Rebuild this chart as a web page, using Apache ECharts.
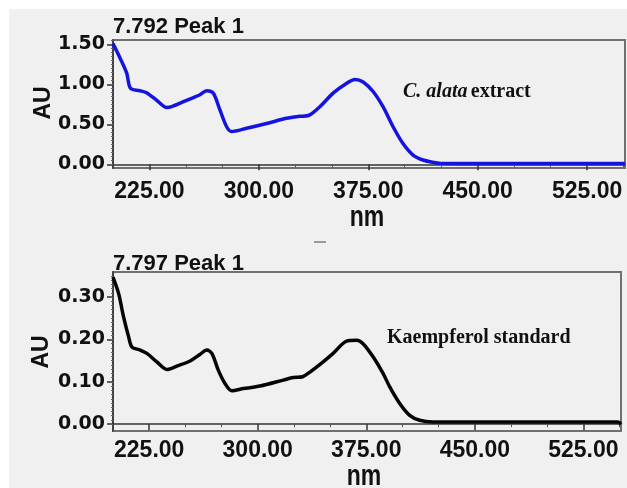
<!DOCTYPE html>
<html>
<head>
<meta charset="utf-8">
<script src="https://cdn.jsdelivr.net/npm/echarts@6/dist/echarts.min.js"></script>
<style>
  html, body { margin: 0; padding: 0; background: #ffffff; }
  #chart { width: 627px; height: 488px; }
</style>
</head>
<body>
<div id="chart"></div>
<script>
// UV spectra of the 7.79 min peak: plant extract (top) and kaempferol standard (bottom)
const extractTitle = '7.792 Peak 1';
const standardTitle = '7.797 Peak 1';

const extractNm = [200, 204.8, 209.4, 212, 218.5, 223, 230, 236.8, 240.2, 250.5, 259.6, 264.2, 268.7, 273.3,
  277.9, 281.3, 291.6, 305.3, 318.8, 328, 334, 341.8, 350.9, 360, 365.8, 371.5, 378.3, 385.1, 392, 398.8,
  405.7, 412.5, 419.4, 424, 450, 500, 551];
const extractAU = [1.51, 1.33, 1.14, 0.95, 0.92, 0.895, 0.80, 0.71, 0.72, 0.80, 0.87, 0.92, 0.89, 0.68,
  0.47, 0.41, 0.45, 0.51, 0.575, 0.60, 0.61, 0.72, 0.89, 1.01, 1.06, 1.03, 0.91, 0.72, 0.47, 0.26,
  0.116, 0.054, 0.025, 0.012, 0.01, 0.01, 0.01];

const standardNm = [200, 203.9, 207.3, 210.8, 213.1, 218.8, 223.4, 230.3, 237.2, 244.1, 253.3, 260.2, 264.8,
  268.3, 272.8, 277.4, 282.1, 290.1, 301.6, 317.7, 324.6, 331, 336.1, 345.2, 352.1, 361.4, 368.3, 372.8,
  379.7, 386.6, 391.2, 398.1, 405, 411.9, 421.1, 500, 549, 551];
const standardAU = [0.347, 0.308, 0.253, 0.206, 0.182, 0.175, 0.167, 0.147, 0.129, 0.137, 0.149, 0.165, 0.175,
  0.167, 0.127, 0.096, 0.079, 0.084, 0.090, 0.104, 0.110, 0.112, 0.123, 0.147, 0.167, 0.196, 0.198, 0.190,
  0.159, 0.12, 0.088, 0.049, 0.021, 0.0094, 0.0054, 0.005, 0.005, 0.0];

const nmTicks = [225, 300, 375, 450, 525];
const nmMinorTicks = [250, 275, 325, 350, 400, 425, 475, 500, 550];
const extractTicks = [0, 0.5, 1.0, 1.5];
const standardTicks = [0, 0.1, 0.2, 0.3];

const pairs = (xs, ys) => xs.map((x, i) => [x, ys[i]]);
const range = (a, b, step) => {
  const out = [];
  for (let v = a; v <= b + 1e-9; v += step) out.push(+v.toFixed(4));
  return out;
};

const xLabelFont = { fontFamily: 'Liberation Sans', fontWeight: 'bold', fontSize: 23, color: '#111' };
const yLabelFont = { fontFamily: 'DejaVu Sans', fontWeight: 'bold', fontSize: 19, color: '#111' };

function xAxes(gridIndex, labelMargin) {
  return [
    {
      type: 'value', gridIndex, min: 200, max: 551,
      axisLine: { show: true, lineStyle: { color: '#333', width: 1.5 } },
      axisTick: { show: true, customValues: nmTicks, length: 6, lineStyle: { color: '#333', width: 1.5 } },
      axisLabel: Object.assign({ customValues: nmTicks, margin: labelMargin, formatter: v => v.toFixed(2) }, xLabelFont),
      splitLine: { show: false }
    },
    {
      type: 'value', gridIndex, min: 200, max: 551, position: 'bottom',
      axisLine: { show: false },
      axisTick: { show: true, customValues: nmMinorTicks, length: 3, lineStyle: { color: '#555', width: 1 } },
      axisLabel: { show: false },
      splitLine: { show: false }
    }
  ];
}

function yAxes(gridIndex, min, max, ticks, minorStep) {
  return [
    {
      type: 'value', gridIndex, min, max,
      axisLine: { show: true, lineStyle: { color: '#333', width: 1.5 } },
      axisTick: { show: true, customValues: ticks, length: 6, lineStyle: { color: '#333', width: 1.5 } },
      axisLabel: Object.assign({ customValues: ticks, margin: 8, formatter: v => v.toFixed(2) }, yLabelFont),
      splitLine: { show: false }
    },
    {
      type: 'value', gridIndex, min, max, position: 'left',
      axisLine: { show: false },
      axisTick: { show: true, customValues: range(0, max, minorStep), length: 2, lineStyle: { color: '#666', width: 1 } },
      axisLabel: { show: false },
      splitLine: { show: false }
    }
  ];
}

const chart = echarts.init(document.getElementById('chart'), null, { renderer: 'canvas' });

const titleFont = { fontFamily: 'Liberation Sans', fontWeight: 'bold', fontSize: 22, fill: '#111' };
const nameFont = { fontFamily: 'Liberation Sans', fontWeight: 'bold', fontSize: 23, fill: '#111' };

chart.setOption({
  animation: false,
  backgroundColor: '#ffffff',
  grid: [
    { left: 113, top: 40, width: 512, height: 128, show: true, backgroundColor: '#f0f0f0', borderColor: '#707070', borderWidth: 2 },
    { left: 113, top: 272, width: 508, height: 159, show: true, backgroundColor: '#f0f0f0', borderColor: '#707070', borderWidth: 2 }
  ],
  xAxis: [...xAxes(0, 12), ...xAxes(1, 8)],
  yAxis: [...yAxes(0, -0.046, 1.554, extractTicks, 0.05), ...yAxes(1, -0.016, 0.359, standardTicks, 0.01)],
  graphic: [
    { type: 'rect', z: -10, silent: true, shape: { x: 9, y: 9, width: 618, height: 479 }, style: { fill: '#f0f0f0' } },
    { type: 'text', left: 113, top: 16, style: Object.assign({ text: extractTitle }, titleFont) },
    { type: 'text', left: 113, top: 253, style: Object.assign({ text: standardTitle }, titleFont) },
    { type: 'text', x: 44, y: 103, rotation: Math.PI / 2, style: Object.assign({ text: 'AU', align: 'center', verticalAlign: 'middle' }, nameFont) },
    { type: 'text', x: 42, y: 352, rotation: Math.PI / 2, style: Object.assign({ text: 'AU', align: 'center', verticalAlign: 'middle' }, nameFont) },
    { type: 'text', x: 367, y: 218, scaleY: 1.25, style: Object.assign({ text: 'nm', align: 'center', verticalAlign: 'middle' }, nameFont) },
    { type: 'text', x: 364, y: 477, scaleY: 1.25, style: Object.assign({ text: 'nm', align: 'center', verticalAlign: 'middle' }, nameFont) },
    { type: 'rect', silent: true, shape: { x: 314, y: 241, width: 12, height: 2 }, style: { fill: '#9a9a9a' } },
    {
      type: 'text', x: 403, y: 92,
      style: {
        text: '{i|C. alata} {b|extract}', verticalAlign: 'middle',
        rich: {
          i: { fontFamily: 'Liberation Serif', fontStyle: 'italic', fontWeight: 'bold', fontSize: 20, fill: '#111' },
          b: { fontFamily: 'Liberation Serif', fontWeight: 'bold', fontSize: 20, fill: '#111' }
        }
      }
    },
    {
      type: 'text', x: 387, y: 338,
      style: { text: 'Kaempferol standard', verticalAlign: 'middle', fontFamily: 'Liberation Serif', fontWeight: 'bold', fontSize: 20, fill: '#111' }
    }
  ],
  series: [
    {
      type: 'line', xAxisIndex: 0, yAxisIndex: 0, data: pairs(extractNm, extractAU),
      showSymbol: false, smooth: 0.3, lineStyle: { color: '#1414e0', width: 3.5 }
    },
    {
      type: 'line', xAxisIndex: 2, yAxisIndex: 2, data: pairs(standardNm, standardAU),
      showSymbol: false, smooth: 0.3, lineStyle: { color: '#050505', width: 3.5 }
    }
  ]
});
</script>
</body>
</html>
